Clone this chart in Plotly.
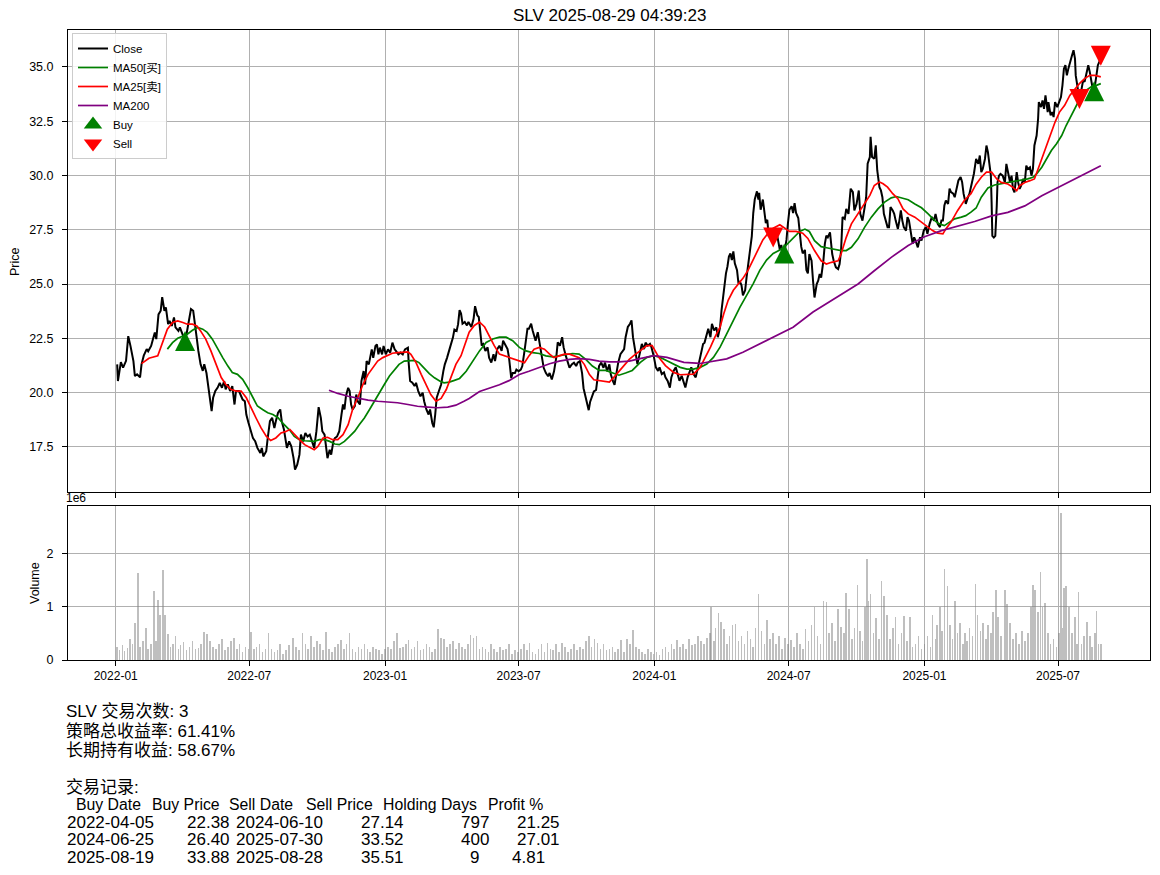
import pandas as pd
import plotly.graph_objects as go

# ---------------- data ----------------
BASE_DATE = "2022-01-01"          # day offsets below are counted from this date
TICKER = "SLV"
REPORT_TIME = "2025-08-29 04:39:23"
N_TRADES = 3
STRATEGY_RETURN = 61.41
HOLD_RETURN = 58.67

close_day = [
    2, 3, 7, 10, 14, 17, 20, 24, 26, 29,
    33, 35, 38, 42, 44, 48, 50, 53, 55, 58,
    61, 63, 66, 68, 71, 73, 76, 79, 81, 85,
    87, 91, 94, 96, 100, 102, 105, 107, 110, 112,
    115, 118, 120, 123, 126, 128, 130, 132, 135, 138,
    141, 144, 147, 149, 152, 155, 158, 161, 163, 167,
    169, 172, 175, 177, 180, 183, 186, 189, 192, 196,
    198, 200, 204, 206, 209, 212, 215, 217, 220, 223,
    225, 228,
    232, 235, 238, 241, 243, 246, 249, 251, 254, 257,
    260, 263, 266, 269, 272, 275, 278, 280, 283, 285,
    287, 290, 292, 295, 297, 300, 303, 306, 308, 310,
    312, 315, 317, 319, 321, 324, 326, 328, 331, 333,
    336, 338, 340, 343, 345, 347, 349, 352, 354, 356,
    358, 361, 363, 366, 369, 372, 375, 378, 380, 383,
    386, 389, 392, 396, 397, 399, 402, 405, 407, 410,
    413, 416, 418, 421, 424, 426, 429, 431, 433, 435,
    438, 441, 444, 446, 449, 451, 453, 457, 459, 462,
    464,
    466, 468, 470, 473, 476, 478, 482, 485, 487, 490,
    492, 494, 496, 498, 501, 504, 506, 509, 512, 514,
    517, 520, 523, 525, 528, 531, 533, 536, 538, 541,
    543, 546, 549, 551, 554, 556, 558, 560, 563, 565,
    567, 569, 572, 575, 578, 580, 583, 586, 588, 591,
    594, 597, 599, 602, 605, 607, 610, 613, 615, 618,
    621, 624, 626, 629, 632, 634, 637, 639, 641, 643,
    646, 648, 651, 653, 655, 658, 661, 663, 666, 669,
    671, 674, 676, 679, 681, 684, 687, 689, 691, 694,
    697, 699, 701,
    704, 707, 709, 711, 713, 716, 718, 721, 724, 726,
    729, 732, 735, 737, 740, 743, 745, 748, 751, 753,
    756, 759, 762, 764, 767, 770, 772, 775, 778, 780,
    783, 786, 788, 791, 793, 796, 798, 801, 803, 806,
    808, 811, 814, 816, 819, 821, 823, 824, 827, 829,
    831, 833, 835, 837, 839, 842, 844, 846, 848, 850,
    853, 855, 857, 859, 862, 864, 866, 869, 871, 872,
    874, 877, 879, 881, 883, 885, 887, 889, 891, 893,
    895, 898, 900, 902, 904, 906, 909, 911, 913, 916,
    918, 920, 922, 925, 927, 929, 931, 934, 936, 938,
    940, 943, 945, 947, 950, 952, 954, 956, 959, 961,
    963, 965, 968, 971, 973, 976, 979, 981, 983, 985,
    988, 990, 993, 996, 999, 1001, 1004, 1007, 1009, 1012,
    1015, 1017, 1019, 1022, 1023, 1025, 1028, 1030, 1032, 1035,
    1037, 1039, 1041, 1044, 1046, 1048, 1050, 1053, 1055, 1057,
    1060, 1062, 1064, 1066, 1068, 1071, 1073, 1075, 1078, 1080,
    1082, 1084, 1087, 1090, 1092, 1095, 1098, 1100, 1103, 1106,
    1109, 1111, 1114, 1117, 1119, 1121, 1123, 1125, 1128, 1130,
    1132, 1135, 1137, 1140, 1142, 1145, 1147, 1149, 1152, 1155,
    1157, 1160, 1163,
    1166, 1169, 1171, 1173, 1175, 1178, 1180, 1182, 1184, 1186,
    1187, 1188, 1190, 1192, 1194, 1195, 1197, 1199, 1202, 1205,
    1207, 1209, 1212, 1214, 1216, 1218, 1221, 1223, 1225, 1227,
    1230, 1232, 1234, 1236, 1239, 1241, 1243, 1245, 1248, 1250,
    1251, 1254, 1256, 1258, 1260, 1263, 1264, 1267, 1269, 1271,
    1273, 1276, 1278, 1281, 1283, 1285, 1287, 1289, 1291, 1294,
    1296, 1298, 1300, 1301, 1303, 1305, 1306, 1309, 1311, 1313,
    1315, 1318, 1320, 1322, 1324, 1326, 1329, 1331, 1333, 1335,
]
close_px = [
    21.30, 20.53, 21.40, 21.15, 21.46, 22.60, 22.15, 21.45, 20.76, 20.84,
    20.70, 21.30, 21.70, 22.00, 21.90, 22.15, 22.40, 22.77, 22.46, 23.60,
    23.77, 24.40, 23.77, 23.92, 23.15, 23.30, 23.07, 23.46, 23.00, 22.84,
    23.00, 22.60, 22.38, 22.70, 23.60, 23.85, 23.77, 23.15, 22.46, 21.92,
    21.30, 21.00, 21.30, 20.90, 20.20, 19.84, 19.14, 19.76, 20.07, 20.22,
    20.45, 20.22, 20.53, 20.15, 20.38, 20.07, 20.30, 19.45, 20.07, 20.07,
    19.90, 19.68, 19.60, 18.99, 18.60, 18.20, 17.90, 17.76, 17.45, 17.22,
    17.45, 17.06, 17.30, 17.90, 18.68, 18.84, 18.37, 18.68, 19.07, 19.22,
    18.68, 18.30,
    17.45, 17.75, 17.52, 16.98, 16.45, 16.68, 17.14, 18.06, 17.75, 18.14,
    17.98, 18.06, 17.75, 17.45, 18.22, 19.33, 18.83, 18.22, 18.06, 17.60,
    16.98, 17.37, 17.14, 17.75, 17.90, 17.98, 18.22, 18.99, 19.45, 19.22,
    19.83, 20.22, 20.07, 19.45, 19.22, 19.37, 19.91, 19.60, 19.45, 20.53,
    20.99, 20.37, 21.45, 21.30, 21.76, 21.99, 21.60, 22.15, 22.22, 21.76,
    22.07, 21.76, 22.15, 21.76, 21.99, 21.84, 22.30, 21.99, 21.91, 21.76,
    21.84, 21.76, 21.99, 22.07, 21.38, 20.53, 20.45, 20.30, 20.45, 20.07,
    19.83, 19.99, 19.60, 19.22, 18.99, 19.22, 18.60, 18.40, 18.99, 19.76,
    20.07, 20.37, 20.99, 21.30, 21.60, 21.91, 22.07, 22.53, 22.90, 22.84,
    23.15,
    23.80, 23.64, 23.17, 23.25, 23.09, 23.25, 23.02, 23.40, 23.98, 23.56,
    23.48, 22.86, 22.16, 22.23, 21.92, 22.08, 21.61, 21.38, 21.77, 21.45,
    22.00, 22.16, 21.92, 22.39, 22.16, 22.00, 21.61, 20.67, 20.90, 20.90,
    21.06, 20.98, 21.06, 21.22, 21.92, 22.47, 22.94, 22.94, 23.17, 22.86,
    22.55, 22.39, 22.78, 22.23, 21.61, 21.14, 20.90, 20.75, 20.90, 20.60,
    20.98, 21.61, 22.31, 22.16, 22.55, 22.08, 21.69, 21.38, 21.14, 21.30,
    21.38, 21.22, 21.38, 21.45, 20.90, 20.20, 19.81, 19.42, 19.19, 19.58,
    19.89, 20.05, 20.12, 20.67, 21.22, 21.38, 21.14, 21.38, 20.98, 21.30,
    20.83, 20.52, 20.36, 20.98, 21.38, 21.77, 21.92, 22.00, 22.55, 23.02,
    23.17, 23.33, 22.55,
    21.93, 21.31, 21.62, 21.93, 22.24, 22.00, 22.30, 22.16, 22.24, 22.09,
    21.70, 21.16, 21.00, 21.16, 20.85, 20.93, 20.70, 20.54, 20.23, 20.70,
    21.00, 21.16, 20.85, 20.54, 20.77, 20.39, 20.23, 20.70, 21.00, 21.16,
    20.85, 20.70, 21.00, 21.47, 21.93, 22.24, 22.30, 22.70, 22.94, 22.55,
    23.17, 22.86, 23.00, 22.55, 23.00, 23.79, 24.40, 24.87, 25.49, 25.80,
    26.26, 26.41, 26.10, 26.50, 25.95, 25.64, 25.02, 25.10, 24.95, 24.48,
    24.71, 25.33, 25.80, 26.41, 27.19, 28.27, 28.89, 29.27, 28.89, 29.20,
    28.42, 28.89, 28.27, 27.80, 27.96, 27.19, 27.50, 27.19, 27.14, 27.19,
    27.50, 27.03, 26.57, 26.80, 26.34, 26.40, 27.03, 27.80, 28.42, 28.58,
    28.27, 28.73, 28.27, 28.04, 27.19, 26.72, 26.41, 26.57, 25.64, 25.49,
    26.38, 26.07, 25.15, 24.38, 25.00, 25.15, 25.46, 25.30, 26.07, 26.85,
    27.23, 27.15, 27.38, 26.38, 26.07, 25.77, 25.69, 25.92, 26.54, 28.08,
    28.00, 28.46, 28.23, 29.39, 29.23, 28.39, 28.69, 29.31, 28.23, 27.92,
    28.54, 29.00, 30.54, 30.85, 31.78, 30.85, 30.77, 31.39, 30.24, 29.46,
    29.31, 29.00, 28.23, 27.92, 27.62, 27.62, 28.54, 28.39, 28.23, 27.92,
    27.54, 27.92, 28.39, 27.92, 27.62, 27.46, 28.08, 27.92, 27.31, 26.85,
    27.15, 27.00, 26.69, 27.15, 27.00, 27.46, 27.62, 27.31, 27.77, 28.08,
    27.92, 28.23, 27.77, 27.62, 27.92, 27.92, 28.62, 28.85, 28.69, 29.39,
    29.23, 29.16, 29.00, 29.46, 29.77, 29.93, 29.70, 29.16, 28.69, 29.00,
    29.16, 29.62, 30.08,
    30.76, 30.53, 30.92, 30.15, 30.30, 30.76, 31.38, 31.07, 30.53, 29.99,
    28.76, 27.22, 27.14, 27.22, 28.61, 29.68, 29.99, 30.07, 29.99, 29.68,
    30.53, 30.15, 29.68, 29.99, 29.38, 29.22, 30.15, 29.68, 29.38, 29.53,
    29.84, 29.68, 30.45, 30.30, 30.38, 29.99, 30.30, 31.38, 31.84, 32.61,
    33.38, 33.15, 33.46, 33.07, 33.69, 32.92, 33.38, 32.77, 32.92, 32.69,
    33.38, 33.15, 33.38, 33.61, 34.15, 34.92, 35.08, 34.61, 34.92, 35.23,
    35.54, 35.77, 35.38, 34.61, 34.15, 33.69, 33.52, 34.00, 34.38, 34.31,
    34.61, 35.08, 34.77, 34.46, 34.00, 33.88, 34.61, 35.08, 35.23, 35.51,
]

ma25_day = [
    35, 45, 57, 63, 70, 77, 84, 91, 97, 104,
    110, 115, 122, 129, 136, 143, 149, 156, 163, 170,
    177, 183, 190, 197, 204, 210, 217, 224, 230, 236,
    242, 249, 256, 263, 269, 274, 281, 287, 294, 301,
    308, 315, 321, 328, 335, 342, 348, 355, 362, 369,
    375, 382, 389, 396, 400, 407, 414, 421, 427, 434,
    441, 448, 454, 461, 468, 474, 479, 486, 493, 500,
    506, 513, 520, 527, 533, 540, 547, 554, 560, 567,
    574, 581, 588, 594, 601, 608, 615, 621, 628, 635,
    642, 648, 655, 662, 669, 675, 682, 689, 696, 702,
    711, 720, 727, 736, 745, 756, 765, 774, 783, 792,
    799, 806, 812, 819, 824, 830, 837, 844, 850, 857,
    864, 871, 877, 884, 891, 900, 907, 913, 922, 931,
    938, 947, 956, 963, 970, 979, 983, 990, 997, 1006,
    1015, 1022, 1028, 1035, 1040, 1046, 1053, 1060, 1067, 1074,
    1083, 1092, 1101, 1107, 1114, 1121, 1125, 1132, 1141, 1150,
    1159, 1166, 1173, 1180, 1187, 1194, 1200, 1209, 1216, 1221,
    1225, 1232, 1239, 1245, 1250, 1255, 1259, 1266, 1273, 1279,
    1286, 1293, 1300, 1306, 1313, 1320, 1327, 1335,
]
ma25_px = [
    21.33, 21.58, 21.69, 22.23, 22.92, 23.23, 23.30, 23.23, 23.15, 23.15,
    23.07, 22.84, 22.46, 21.92, 21.30, 20.69, 20.38, 20.15, 20.07, 20.07,
    19.76, 19.30, 18.84, 18.37, 17.99, 17.79, 17.91, 18.14, 18.20, 18.30,
    18.06, 17.83, 17.60, 17.48, 17.37, 17.52, 17.91, 17.94, 17.83, 17.83,
    18.06, 18.52, 19.22, 19.76, 20.37, 20.84, 21.14, 21.45, 21.61, 21.73,
    21.81, 21.84, 21.84, 21.87, 21.76, 21.38, 20.84, 20.30, 19.91, 19.60,
    19.73, 20.14, 20.68, 21.30, 21.70, 22.30, 22.78, 23.09, 23.25, 23.02,
    22.62, 22.16, 21.77, 21.69, 21.61, 21.53, 21.45, 21.38, 21.69, 22.00,
    22.08, 22.00, 21.77, 21.61, 21.69, 21.77, 21.77, 21.69, 21.61, 21.30,
    20.83, 20.59, 20.55, 20.52, 20.48, 20.70, 20.98, 21.22, 21.53, 21.70,
    21.93, 22.16, 22.16, 21.62, 21.24, 20.93, 20.82, 20.82, 20.85, 21.16,
    21.62, 22.09, 22.55, 23.01, 23.63, 24.25, 24.71, 25.02, 25.26, 25.64,
    26.10, 26.57, 27.03, 27.34, 27.57, 27.73, 27.57, 27.42, 27.42, 27.34,
    27.10, 26.54, 26.07, 25.92, 26.00, 26.07, 26.38, 27.15, 27.77, 28.23,
    28.69, 29.08, 29.54, 29.70, 29.62, 29.46, 29.16, 28.93, 28.46, 28.23,
    28.08, 27.85, 27.62, 27.46, 27.34, 27.31, 27.54, 27.85, 28.39, 28.85,
    29.16, 29.60, 29.92, 30.15, 30.15, 29.84, 29.68, 29.61, 29.45, 29.30,
    29.53, 29.68, 29.76, 29.84, 30.30, 30.76, 31.22, 31.84, 32.46, 32.92,
    33.23, 33.69, 34.00, 34.23, 34.46, 34.61, 34.61, 34.54,
]

ma50_day = [
    70, 77, 84, 91, 97, 104, 111, 118, 124, 131,
    138, 145, 152, 158, 165, 172, 179, 186, 192, 199,
    206, 213, 220, 226, 236, 242, 249, 256, 263, 269,
    276, 283, 290, 297, 303, 310, 317, 324, 330, 337,
    344, 351, 357, 364, 371, 378, 384, 391, 398, 405,
    411, 418, 425, 432, 439, 445, 452, 459, 466, 475,
    484, 493, 502, 511, 520, 529, 538, 547, 556, 565,
    574, 583, 592, 601, 610, 619, 628, 637, 646, 655,
    664, 673, 682, 691, 700, 711, 720, 729, 738, 747,
    756, 765, 774, 783, 792, 801, 810, 819, 828, 837,
    846, 855, 864, 873, 882, 891, 900, 909, 918, 927,
    934, 940, 947, 956, 965, 974, 983, 990, 997, 1006,
    1015, 1024, 1033, 1042, 1051, 1058, 1064, 1074, 1083, 1092,
    1101, 1110, 1116, 1123, 1130, 1137, 1146, 1152, 1159, 1166,
    1173, 1182, 1191, 1200, 1209, 1218, 1227, 1236, 1243, 1248,
    1255, 1261, 1268, 1275, 1282, 1288, 1295, 1302, 1309, 1315,
    1322, 1329, 1335,
]
ma50_px = [
    22.00, 22.30, 22.50, 22.61, 22.69, 22.87, 23.00, 22.92, 22.77, 22.46,
    22.00, 21.61, 21.22, 20.92, 20.84, 20.61, 20.22, 19.76, 19.38, 19.22,
    19.07, 18.99, 18.84, 18.60, 18.26, 17.98, 17.83, 17.78, 17.78, 17.75,
    17.83, 17.83, 17.75, 17.63, 17.60, 17.75, 17.98, 18.22, 18.52, 18.83,
    19.22, 19.60, 19.99, 20.37, 20.76, 21.07, 21.30, 21.45, 21.48, 21.48,
    21.38, 21.14, 20.87, 20.68, 20.53, 20.45, 20.48, 20.56, 20.65, 20.98,
    21.45, 21.92, 22.31, 22.47, 22.55, 22.55, 22.39, 22.08, 21.92, 21.84,
    21.80, 21.69, 21.64, 21.69, 21.77, 21.80, 21.77, 21.53, 21.22, 21.02,
    21.02, 20.90, 20.80, 20.90, 21.02, 21.39, 21.62, 21.70, 21.62, 21.47,
    21.31, 21.16, 21.08, 21.08, 21.16, 21.31, 21.62, 22.09, 22.70, 23.32,
    23.94, 24.48, 25.02, 25.64, 26.10, 26.41, 26.57, 26.80, 27.11, 27.42,
    27.53, 27.42, 27.00, 26.72, 26.66, 26.61, 26.54, 26.54, 26.69, 27.08,
    27.62, 28.08, 28.46, 28.77, 28.97, 29.03, 28.97, 28.88, 28.69, 28.51,
    28.23, 27.92, 27.77, 27.69, 27.85, 28.00, 28.08, 28.15, 28.31, 28.50,
    29.00, 29.42, 29.56, 29.61, 29.68, 29.72, 29.76, 29.84, 29.92, 30.07,
    30.38, 30.76, 31.15, 31.46, 31.84, 32.30, 32.77, 33.23, 33.69, 33.92,
    34.08, 34.15, 34.23,
]

ma200_day = [
    289, 301, 315, 328, 342, 355, 369, 382, 396, 409,
    423, 436, 450, 461, 472, 479, 493, 506, 520, 533,
    547, 560, 574, 588, 601, 615, 628, 642, 655, 669,
    682, 696, 709, 729, 747, 770, 792, 810, 828, 850,
    873, 895, 918, 945, 970, 983, 1006, 1028, 1051, 1074,
    1096, 1119, 1141, 1164, 1187, 1209, 1232, 1255, 1277, 1300,
    1318, 1335,
]
ma200_px = [
    20.11, 19.96, 19.83, 19.73, 19.65, 19.60, 19.56, 19.53, 19.45, 19.37,
    19.33, 19.30, 19.33, 19.42, 19.60, 19.73, 20.05, 20.20, 20.36, 20.55,
    20.83, 20.98, 21.17, 21.33, 21.45, 21.53, 21.56, 21.53, 21.45, 21.41,
    21.41, 21.45, 21.55, 21.70, 21.62, 21.39, 21.34, 21.44, 21.55, 21.86,
    22.24, 22.63, 23.01, 23.71, 24.23, 24.53, 25.00, 25.61, 26.23, 26.77,
    27.18, 27.46, 27.65, 27.88, 28.14, 28.30, 28.60, 29.07, 29.45, 29.84,
    30.15, 30.45,
]

vol_day = [
    2, 5, 9, 12, 16, 19, 23, 26, 30, 33,
    37, 41, 44, 48, 52, 55, 57, 60, 64, 67,
    71, 74, 78, 81, 85, 88, 92, 96, 100, 104,
    108, 112, 116, 120, 124, 128, 132, 136, 140, 144,
    148, 152, 156, 160, 164, 168, 172, 176, 180, 183,
    187, 191, 195, 199, 203, 207, 211, 215, 219, 223,
    227, 231, 235, 240, 244, 248, 253, 257, 261, 265,
    269, 273, 277, 281, 285, 289, 293, 297, 301, 305,
    309, 313, 317, 321, 325, 329, 333, 337, 341, 345,
    349, 353, 357, 361,
    365, 369, 373, 377, 381, 385, 389, 393, 397, 401,
    405, 409, 413, 417, 421, 425, 429, 433, 437, 441,
    445, 449, 453, 457, 461, 465, 469, 473, 477, 481,
    485, 489, 493, 497, 501, 505, 509, 513, 517, 521,
    525, 529, 533, 537, 541, 545, 549, 553, 557, 561,
    565, 569, 573, 577, 581, 585, 589, 593, 597, 601,
    605, 609, 613, 617, 621, 625, 629, 633, 637, 641,
    645, 649, 653, 657, 661, 665, 669, 673, 677, 681,
    685, 689, 693, 697, 701, 705, 709, 713, 717, 721,
    725,
    729, 733, 737, 741, 745, 749, 753, 757, 761, 765,
    769, 773, 777, 781, 785, 789, 793, 797, 801, 805,
    807, 811, 813, 817, 820, 824, 828, 832, 836, 840,
    844, 848, 852, 856, 860, 864, 867, 871, 875, 879,
    883, 887, 891, 895, 899, 903, 907, 911, 915, 919,
    923, 927, 931, 935, 939, 943, 947, 951, 955, 959,
    963, 967, 971, 975, 979, 983, 987, 990, 994, 998,
    1001, 1005, 1009, 1012, 1015, 1018, 1020, 1023, 1027, 1030,
    1034, 1038, 1041, 1045, 1049, 1053, 1057, 1061, 1065, 1068,
    1072, 1076, 1080, 1084, 1088, 1092,
    1096, 1100, 1104, 1107, 1111, 1113, 1117, 1120, 1123, 1127,
    1131, 1134, 1137, 1141, 1144, 1148, 1151, 1154, 1157, 1161,
    1165, 1168, 1172, 1175, 1179, 1182, 1186, 1189, 1193, 1196,
    1200, 1205, 1208, 1212, 1216, 1220, 1224, 1228, 1232, 1236,
    1240, 1243, 1246, 1250, 1253, 1256, 1259, 1263, 1267, 1271,
    1275, 1278, 1281, 1283, 1285, 1288, 1292, 1296, 1300, 1303,
    1305, 1309, 1312, 1316, 1320, 1323, 1327, 1329, 1332, 1335,
]
vol_mln = [
    0.25, 0.18, 0.28, 0.17, 0.22, 0.40, 0.30, 0.70, 1.63, 0.25,
    0.35, 0.60, 0.20, 0.30, 1.30, 0.35, 1.13, 0.85, 1.69, 0.85,
    0.48, 0.25, 0.30, 0.45, 0.20, 0.28, 0.33, 0.18, 0.25, 0.35,
    0.20, 0.22, 0.30, 0.52, 0.48, 0.35, 0.25, 0.20, 0.30, 0.40,
    0.18, 0.25, 0.35, 0.42, 0.20, 0.30, 0.15, 0.25, 0.20, 0.53,
    0.20, 0.25, 0.30, 0.15, 0.20, 0.50, 0.20, 0.15, 0.18, 0.30,
    0.12, 0.18, 0.28, 0.42, 0.25, 0.18, 0.50, 0.30, 0.20, 0.45,
    0.25, 0.35, 0.30, 0.18, 0.52, 0.20, 0.15, 0.25, 0.30, 0.38,
    0.20, 0.30, 0.50, 0.20, 0.15, 0.25, 0.20, 0.30, 0.20, 0.15,
    0.25, 0.20, 0.18, 0.12,
    0.20, 0.25, 0.20, 0.35, 0.50, 0.22, 0.25, 0.30, 0.38, 0.20,
    0.25, 0.35, 0.18, 0.20, 0.30, 0.25, 0.15, 0.20, 0.58, 0.42,
    0.40, 0.25, 0.30, 0.35, 0.20, 0.32, 0.25, 0.20, 0.30, 0.46,
    0.42, 0.45, 0.20, 0.25, 0.20, 0.15, 0.30, 0.20, 0.15, 0.25,
    0.18, 0.20, 0.30, 0.12, 0.18, 0.15, 0.20, 0.30, 0.18, 0.32,
    0.15, 0.12, 0.20, 0.30, 0.15, 0.32, 0.20, 0.18, 0.30, 0.15,
    0.32, 0.25, 0.15, 0.20, 0.30, 0.18, 0.25, 0.20, 0.35, 0.45,
    0.25, 0.40, 0.32, 0.20, 0.30, 0.18, 0.20, 0.25, 0.15, 0.20,
    0.38, 0.15, 0.40, 0.30, 0.57, 0.25, 0.20, 0.15, 0.12, 0.20,
    0.15,
    0.12, 0.15, 0.10, 0.20, 0.25, 0.15, 0.30, 0.20, 0.38, 0.25,
    0.30, 0.20, 0.40, 0.28, 0.30, 0.45, 0.35, 0.30, 0.42, 0.50,
    1.00, 0.35, 0.60, 0.88, 0.72, 0.58, 0.30, 0.45, 0.65, 0.68,
    0.35, 0.45, 0.30, 0.55, 0.40, 0.25, 0.60, 1.24, 0.55, 0.30,
    0.75, 0.40, 0.50, 0.30, 0.45, 0.20, 0.42, 0.30, 0.38, 0.25,
    0.50, 0.30, 0.20, 0.58, 0.35, 0.65, 1.00, 0.45, 0.30, 1.10,
    1.08, 0.50, 0.70, 0.35, 0.95, 0.62, 0.50, 1.25, 0.95, 0.40,
    0.60, 1.40, 0.55, 0.35, 1.00, 1.90, 1.10, 1.24, 0.50, 0.78,
    0.40, 1.49, 1.20, 0.85, 0.40, 0.60, 0.80, 0.30, 0.50, 0.82,
    0.35, 0.80, 0.25, 0.30, 0.45, 0.20,
    0.30, 0.45, 0.25, 0.85, 0.40, 0.65, 1.00, 0.55, 1.70, 1.38,
    0.65, 0.40, 1.10, 0.50, 0.70, 0.30, 0.50, 0.35, 0.60, 0.45,
    1.42, 0.85, 0.55, 0.70, 0.40, 0.65, 0.50, 0.90, 1.32, 0.80,
    0.45, 1.32, 1.05, 0.70, 0.40, 0.50, 0.30, 0.55, 0.35, 0.50,
    1.00, 1.40, 1.32, 0.90, 1.65, 1.00, 1.07, 0.50, 0.30, 0.40,
    0.25, 0.50, 2.75, 0.60, 1.35, 1.38, 1.00, 0.50, 0.80, 0.30,
    1.28, 0.30, 0.45, 0.72, 0.45, 0.25, 0.50, 0.92, 0.30, 0.30,
]

buy_dates = ["2022-04-05", "2024-06-25", "2025-08-19"]
buy_prices = [22.38, 26.40, 33.88]
sell_dates = ["2024-06-10", "2025-07-30", "2025-08-28"]
sell_prices = [27.14, 33.52, 35.51]
holding_days = [797, 400, 9]
profit_pct = [21.25, 27.01, 4.81]
table_header = ["Buy Date", "Buy Price", "Sell Date", "Sell Price", "Holding Days", "Profit %"]

for a, b in [(close_day, close_px), (ma25_day, ma25_px), (ma50_day, ma50_px),
             (ma200_day, ma200_px), (vol_day, vol_mln)]:
    assert len(a) == len(b), (len(a), len(b))

# ---------------- figure ----------------
W, H = 1160, 875
FONT = "Liberation Sans, Noto Sans CJK SC, sans-serif"
base = pd.Timestamp(BASE_DATE)


def to_dates(days):
    return base + pd.to_timedelta(days, unit="D")


def fx(px):
    return px / W


def fy(px):
    return 1 - px / H


fig = go.Figure()
fig.add_trace(go.Scatter(x=to_dates(close_day), y=close_px, mode="lines", name="Close",
                         line=dict(color="black", width=2)))
fig.add_trace(go.Scatter(x=to_dates(ma50_day), y=ma50_px, mode="lines", name="MA50[买]",
                         line=dict(color="green", width=1.7)))
fig.add_trace(go.Scatter(x=to_dates(ma25_day), y=ma25_px, mode="lines", name="MA25[卖]",
                         line=dict(color="red", width=1.7)))
fig.add_trace(go.Scatter(x=to_dates(ma200_day), y=ma200_px, mode="lines", name="MA200",
                         line=dict(color="purple", width=1.7)))
# square-ish triangles centred on the data point (arrow symbol + standoff)
fig.add_trace(go.Scatter(x=pd.to_datetime(buy_dates), y=buy_prices, mode="markers", name="Buy",
                         showlegend=False,
                         marker=dict(symbol="arrow-down", size=20, standoff=10, angle=180,
                                     color="green", line=dict(width=0))))
fig.add_trace(go.Scatter(x=pd.to_datetime(sell_dates), y=sell_prices, mode="markers", name="Sell",
                         showlegend=False,
                         marker=dict(symbol="arrow-down", size=20, standoff=10, angle=0,
                                     color="red", line=dict(width=0))))
# legend entries for the signal markers
fig.add_trace(go.Scatter(x=[None], y=[None], mode="markers", name="Buy",
                         marker=dict(symbol="triangle-up", size=18, color="green", line=dict(width=0))))
fig.add_trace(go.Scatter(x=[None], y=[None], mode="markers", name="Sell",
                         marker=dict(symbol="triangle-down", size=18, color="red", line=dict(width=0))))
fig.add_trace(go.Bar(x=to_dates(vol_day), y=vol_mln, xaxis="x2", yaxis="y2", showlegend=False,
                     marker=dict(color="rgba(128,128,128,0.5)", line=dict(width=0)),
                     width=2.2 * 86400000))

d0, d1 = min(close_day), max(close_day)
pad = 0.05 * (d1 - d0)
xr = [str(base + pd.Timedelta(days=d0 - pad)), str(base + pd.Timedelta(days=d1 + pad))]

axis_common = dict(showline=True, linecolor="black", linewidth=1, mirror=True,
                   ticks="outside", ticklen=5, tickcolor="black", tickwidth=1,
                   showgrid=True, gridcolor="#b0b0b0", gridwidth=1, zeroline=False,
                   automargin=False)

fig.update_layout(
    width=W, height=H, margin=dict(l=0, r=0, t=0, b=0),
    paper_bgcolor="white", plot_bgcolor="white",
    font=dict(family=FONT, color="black"),
    bargap=0,
    xaxis=dict(domain=[fx(68), fx(1150)], anchor="y", type="date", range=xr,
               tick0="2022-01-01", dtick="M6", showticklabels=False,
               tickfont=dict(size=12), **axis_common),
    xaxis2=dict(domain=[fx(68), fx(1150)], anchor="y2", type="date", range=xr, matches="x",
                tick0="2022-01-01", dtick="M6", tickformat="%Y-%m",
                tickfont=dict(size=12), **axis_common),
    yaxis=dict(domain=[fy(492), fy(30)], anchor="x", range=[15.42, 36.70],
               tick0=0, dtick=2.5, tickformat=".1f", ticklabelstandoff=6,
               tickfont=dict(size=12.5), **axis_common),
    yaxis2=dict(domain=[fy(660), fy(506)], anchor="x2", range=[0, 2.89],
                tickvals=[0, 1, 2], ticktext=["0", "1", "2"], ticklabelstandoff=6,
                tickfont=dict(size=12.5), **axis_common),
    legend=dict(x=fx(72), y=fy(33), xanchor="left", yanchor="top",
                bgcolor="rgba(255,255,255,0.85)", bordercolor="#cccccc", borderwidth=1,
                font=dict(size=11.5), tracegroupgap=0, itemwidth=30),
    showlegend=True,
)

ann = []
ann.append(dict(x=fx(609), y=fy(16), text=f"{TICKER} {REPORT_TIME}", font=dict(size=17)))
ann.append(dict(x=fx(15), y=fy(262), text="Price", textangle=-90, font=dict(size=12.5)))
ann.append(dict(x=fx(35), y=fy(583), text="Volume", textangle=-90, font=dict(size=12.5)))
ann.append(dict(x=fx(64), y=fy(498), text="1e6", xanchor="left", font=dict(size=12)))

summary = [
    (711.7, f"{TICKER} 交易次数: {N_TRADES}"),
    (731.2, f"策略总收益率: {STRATEGY_RETURN:.2f}%"),
    (750.7, f"长期持有收益: {HOLD_RETURN:.2f}%"),
    (787.3, "交易记录:"),
]
for ypx, txt in summary:
    ann.append(dict(x=fx(64), y=fy(ypx), text=txt, xanchor="left", font=dict(size=17)))

header_y = 804.6
header_x = [76, 152, 229, 306, 383, 488]
for xp, txt in zip(header_x, table_header):
    ann.append(dict(x=fx(xp - 2), y=fy(header_y), text=txt, xanchor="left", font=dict(size=15.8)))

row_y = [822.3, 839.9, 857.5]
char_gap = 5  # a padding space is narrower than a digit in the proportional font
for i, ypx in enumerate(row_y):
    shift = 0
    cells = [
        (66.7, buy_dates[i], "left"),
        (230, f"{buy_prices[i]:.2f}", "right"),
        (236, sell_dates[i], "left"),
        (404, f"{sell_prices[i]:.2f}", "right"),
    ]
    dtxt = str(holding_days[i])
    shift += (3 - len(dtxt)) * char_gap
    cells.append((489 - shift, dtxt, "right"))
    ptxt = f"{profit_pct[i]:.2f}"
    shift += (5 - len(ptxt)) * char_gap
    cells.append((560 - shift, ptxt, "right"))
    for xp, txt, anchor in cells:
        xx = xp - 2 if anchor == "left" else xp + 2
        ann.append(dict(x=fx(xx), y=fy(ypx), text=txt, xanchor=anchor, font=dict(size=17)))

for a in ann:
    a.setdefault("xref", "paper")
    a.setdefault("yref", "paper")
    a.setdefault("showarrow", False)
    a.setdefault("yanchor", "middle")
    a.setdefault("xanchor", "center")
fig.update_layout(annotations=ann)

fig.write_html("out.html", config={"displayModeBar": False},
               post_script="document.body.style.margin='0px';document.body.style.overflow='hidden';")
